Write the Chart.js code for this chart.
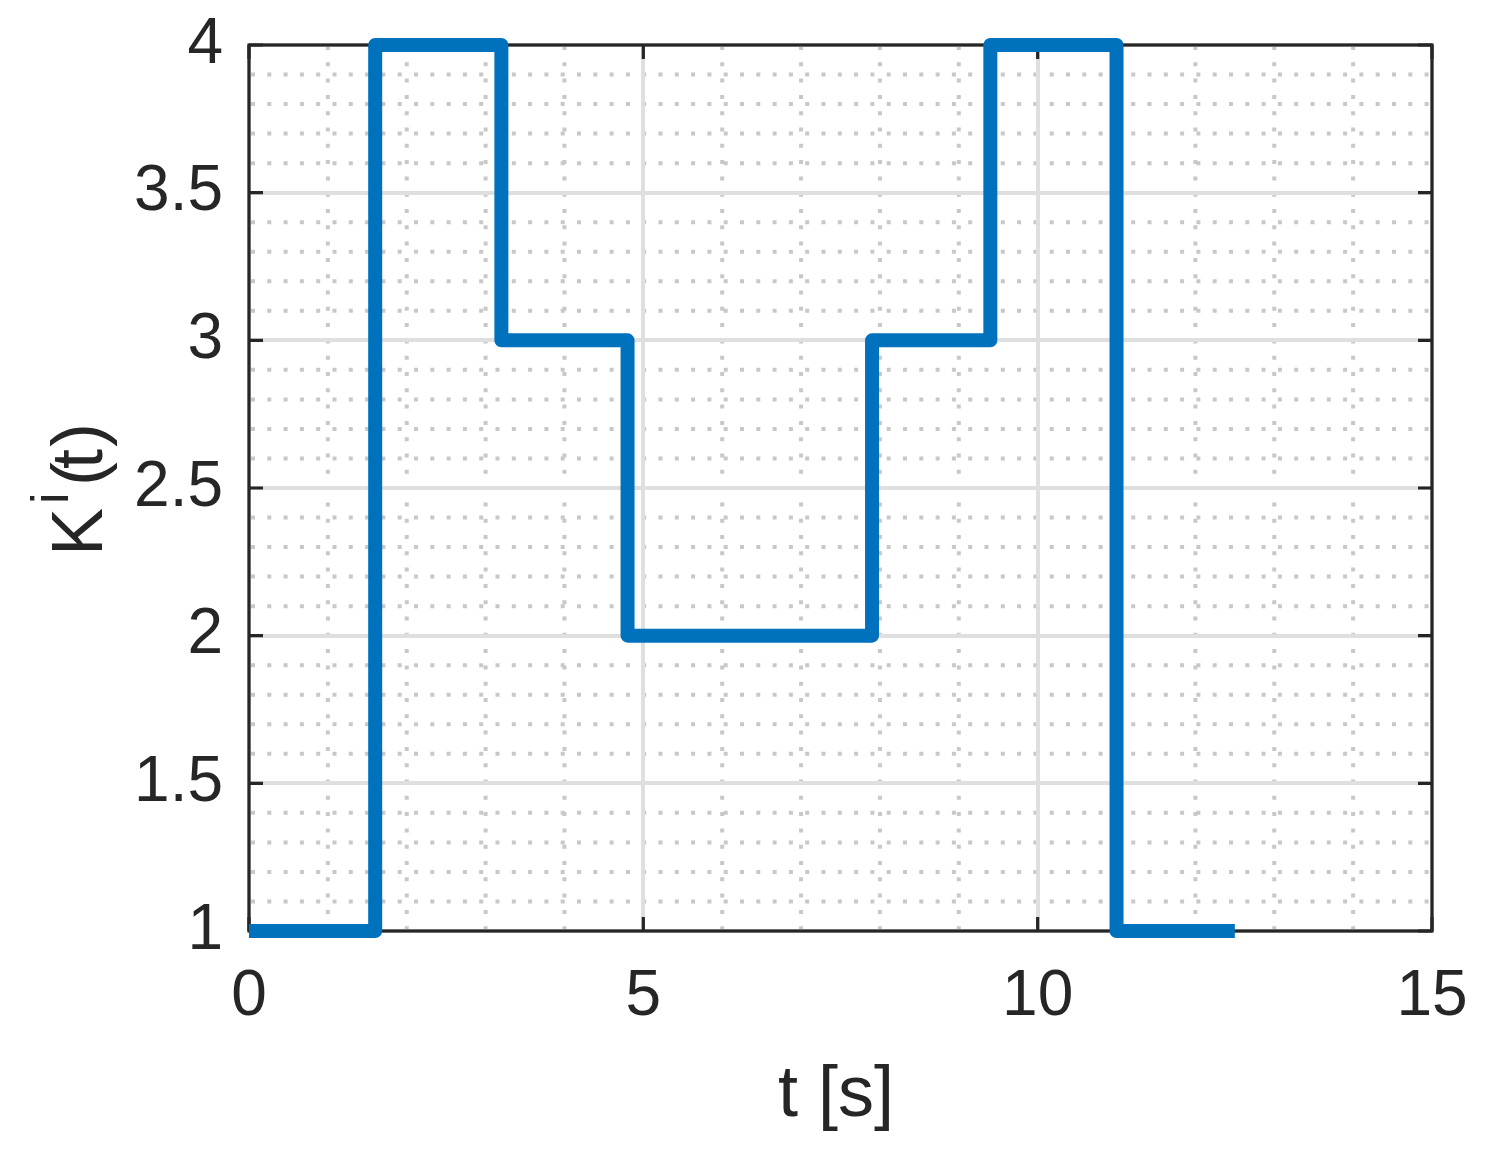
<!DOCTYPE html>
<html>
<head>
<meta charset="utf-8">
<title>K^i(t)</title>
<script src="https://cdn.jsdelivr.net/npm/chart.js@4.4.1/dist/chart.umd.min.js"></script>
<style>
  html, body { margin: 0; padding: 0; background: #ffffff; }
  canvas { display: block; }
</style>
</head>
<body>
<canvas id="chart" width="1502" height="1153"></canvas>
<script>
// switching instants [s] and the gain held from each instant on
const switchTimes = [0, 1.6, 3.2, 4.8, 7.9, 9.4, 11, 12.5];
const gainValues  = [1, 4, 3, 2, 3, 4, 1, 1];

const xTicks = [0, 5, 10, 15];
const yTicks = [1, 1.5, 2, 2.5, 3, 3.5, 4];
const xMinorStep = 1;
const yMinorStep = 0.1;

const FONT = '"Liberation Sans", Arial, Helvetica, sans-serif';
const INK  = '#262626';

/* ── MATLAB-style box: minor grid, frame, inward ticks, axis labels ── */
const axesBox = {
  id: 'axesBox',
  beforeDraw(chart) {
    const { ctx, chartArea: a, scales: { x, y } } = chart;
    ctx.save();
    ctx.fillStyle = '#ffffff';
    ctx.fillRect(0, 0, chart.width, chart.height);

    ctx.strokeStyle = '#c8c8c8';
    ctx.lineWidth = 4;
    ctx.setLineDash([4, 12.3]);

    const nx = Math.round((x.max - x.min) / xMinorStep);
    for (let i = 1; i < nx; i++) {
      const v = x.min + i * xMinorStep;
      if (xTicks.some(t => Math.abs(t - v) < 1e-9)) continue;
      const px = x.getPixelForValue(v);
      ctx.lineDashOffset = -1;
      ctx.beginPath(); ctx.moveTo(px, a.top); ctx.lineTo(px, a.bottom); ctx.stroke();
    }
    const ny = Math.round((y.max - y.min) / yMinorStep);
    for (let i = 1; i < ny; i++) {
      const v = y.min + i * yMinorStep;
      if (yTicks.some(t => Math.abs(t - v) < 1e-9)) continue;
      const py = y.getPixelForValue(v);
      ctx.lineDashOffset = -2;
      ctx.beginPath(); ctx.moveTo(a.left, py); ctx.lineTo(a.right, py); ctx.stroke();
    }
    ctx.restore();
  },
  beforeDatasetsDraw(chart) {
    const { ctx, chartArea: a, scales: { x, y } } = chart;
    const tick = 14;
    ctx.save();
    ctx.strokeStyle = INK;
    ctx.lineWidth = 3.2;
    ctx.setLineDash([]);

    ctx.beginPath();
    for (const v of xTicks) {
      const px = x.getPixelForValue(v);
      ctx.moveTo(px, a.bottom); ctx.lineTo(px, a.bottom - tick);
      ctx.moveTo(px, a.top);    ctx.lineTo(px, a.top + tick);
    }
    for (const v of yTicks) {
      const py = y.getPixelForValue(v);
      ctx.moveTo(a.left, py);  ctx.lineTo(a.left + tick, py);
      ctx.moveTo(a.right, py); ctx.lineTo(a.right - tick, py);
    }
    ctx.stroke();

    ctx.strokeRect(a.left, a.top, a.right - a.left, a.bottom - a.top);

    // x label
    ctx.fillStyle = INK;
    ctx.font = '72px ' + FONT;
    ctx.textAlign = 'center';
    ctx.textBaseline = 'alphabetic';
    ctx.fillText('t [s]', 836, 1116);

    // y label K^i(t), rotated, superscript drawn smaller and raised
    ctx.translate(102, 556);
    ctx.rotate(-Math.PI / 2);
    ctx.textAlign = 'left';
    ctx.font = '72px ' + FONT;
    ctx.fillText('K', 0, 0);
    ctx.font = '52px ' + FONT;
    ctx.fillText('i', 52, -34);
    ctx.font = '72px ' + FONT;
    ctx.fillText('(', 70, 0);
    ctx.fillText('t', 87, 0);
    ctx.fillText(')', 109, 0);
    ctx.restore();
  }
};

const points = switchTimes.map((t, i) => ({ x: t, y: gainValues[i] }));

new Chart(document.getElementById('chart'), {
  type: 'line',
  data: {
    datasets: [{
      label: 'K^i(t)',
      data: points,
      stepped: true,
      borderColor: '#0072bd',
      backgroundColor: 'transparent',
      borderWidth: 14,
      borderCapStyle: 'butt',
      borderJoinStyle: 'round',
      pointRadius: 0,
      pointHoverRadius: 0,
      fill: false,
      clip: false
    }]
  },
  options: {
    responsive: false,
    animation: false,
    devicePixelRatio: 1,
    layout: { padding: { top: 45, right: 70, left: 0, bottom: 0 } },
    plugins: { legend: { display: false }, tooltip: { enabled: false } },
    events: [],
    scales: {
      x: {
        type: 'linear',
        min: 0,
        max: 15,
        afterBuildTicks: s => { s.ticks = xTicks.map(v => ({ value: v })); },
        afterFit: s => { s.height = 222; s.paddingLeft = 0; s.paddingRight = 0; },
        grid: { color: '#dfdfdf', lineWidth: 4, drawTicks: false },
        border: { display: false },
        ticks: {
          color: INK,
          font: { size: 64, family: FONT },
          padding: 28,
          maxRotation: 0,
          autoSkip: false,
          callback: v => String(v)
        }
      },
      y: {
        type: 'linear',
        min: 1,
        max: 4,
        afterBuildTicks: s => { s.ticks = yTicks.map(v => ({ value: v })); },
        afterFit: s => { s.width = 249; s.paddingTop = 0; s.paddingBottom = 0; },
        grid: { color: '#dfdfdf', lineWidth: 4, drawTicks: false },
        border: { display: false },
        ticks: {
          color: INK,
          font: { size: 64, family: FONT },
          padding: 26,
          autoSkip: false,
          callback: v => String(v)
        }
      }
    }
  },
  plugins: [axesBox]
});
</script>
</body>
</html>
